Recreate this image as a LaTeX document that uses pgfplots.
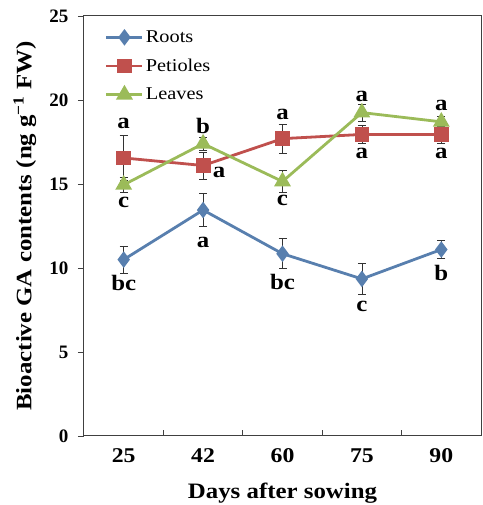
\documentclass[border=0pt]{standalone}
\usepackage{pgfplots}
\pgfplotsset{compat=1.18}
\usepackage{fontspec}
\setmainfont{Liberation Serif}
\newfontfamily\legfont{Liberation Serif}
\newfontfamily\widefont[FakeStretch=1.13]{Liberation Serif}
\definecolor{rootc}{HTML}{587FAE}
\definecolor{petc}{HTML}{C0504D}
\definecolor{leafc}{HTML}{9BBB59}
\begin{document}
\begin{tikzpicture}
\begin{axis}[
  scale only axis, width=397pt, height=420pt,
  xmin=-0.5, xmax=4.5, ymin=0, ymax=25,
  xtick={0.5,1.5,2.5,3.5}, xticklabels={},
  extra x ticks={0,1,2,3,4}, extra x tick labels={25,42,60,75,90},
  extra x tick style={major tick length=0pt},
  ytick={0,5,10,15,20,25},
  tick align=inside, major tick length=6pt,
  every major y tick/.append style={xshift=-6pt},
  tick pos=left,
  axis line style={line width=1pt, black!75},
  tick style={black!75, line width=0.8pt},
  /pgf/number format/assume math mode=true,
  yticklabel style={font=\legfont\bfseries\fontsize{19}{22}\selectfont, xshift=-12pt},
  xticklabel style={font=\widefont\bfseries\fontsize{21}{24}\selectfont, yshift=-9pt},
  xlabel={\bfseries Days after sowing},
  ylabel={\bfseries Bioactive GA contents (ng g\textsuperscript{−1} FW)},
  label style={font=\widefont\bfseries\fontsize{22}{25}\selectfont},
  xlabel style={at={(axis description cs:0.5,-0.136)}, anchor=center},
  ylabel style={at={(axis description cs:-0.149,0.5)}, anchor=center},
  legend style={at={(0.045,0.975)}, anchor=north west, draw=none, fill=none,
    font=\widefont\fontsize{18}{22}\selectfont, row sep=11pt},
  legend cell align=left,
  legend image code/.code={\draw[mark repeat=2,mark phase=2] plot coordinates {(0pt,0pt)(18pt,0pt)(36pt,0pt)};},
  every axis plot/.append style={line width=2.8pt},
  error bars/error bar style={black!80, line width=0.8pt, solid},
  error bars/error mark options={rotate=90, mark size=4pt, black!80, line width=0.8pt},
]
\addplot[rootc, mark=diamond*, mark size=6pt, mark options={solid},
  error bars/.cd, y dir=both, y explicit]
  table[x=x, y=y, y error=e] {
  x y e
  0 10.5 0.8
  1 13.45 1.0
  2 10.85 0.9
  3 9.35 0.9
  4 11.1 0.55
};
\addlegendentry{Roots}
\addplot[petc, mark=square*, mark size=6pt, mark options={solid},
  error bars/.cd, y dir=both, y explicit]
  table[x=x, y=y, y error=e] {
  x y e
  0 16.55 1.35
  1 16.1 0.8
  2 17.7 0.85
  3 17.95 0.55
  4 17.95 0.55
};
\addlegendentry{Petioles}
\addplot[leafc, mark=triangle*, mark size=7pt, mark options={solid},
  error bars/.cd, y dir=both, y explicit]
  table[x=x, y=y, y error=e] {
  x y e
  0 14.95 0.45
  1 17.4 0.4
  2 15.15 0.65
  3 19.25 0.5
  4 18.7 0.3
};
\addlegendentry{Leaves}
% significance letters
\begin{scope}[every node/.style={font=\widefont\bfseries\fontsize{22}{25}\selectfont, inner sep=0pt}]
\node at (axis cs:0,9.1) {bc};
\node at (axis cs:1,11.55) {a};
\node at (axis cs:2,9.15) {bc};
\node at (axis cs:3,7.7) {c};
\node at (axis cs:4,9.7) {b};
\node at (axis cs:0,18.6) {a};
\node at (axis cs:1.2,15.7) {a};
\node at (axis cs:2,19.15) {a};
\node at (axis cs:3,16.8) {a};
\node at (axis cs:4,16.8) {a};
\node at (axis cs:0,13.9) {c};
\node at (axis cs:1,18.45) {b};
\node at (axis cs:2,14.05) {c};
\node at (axis cs:3,20.2) {a};
\node at (axis cs:4,19.7) {a};
\end{scope}
\end{axis}
\pgfresetboundingbox
\path[use as bounding box] ([shift={(-84pt,-69pt)}]current axis.south west) rectangle ([shift={(2pt,16pt)}]current axis.north east);
\end{tikzpicture}
\end{document}
